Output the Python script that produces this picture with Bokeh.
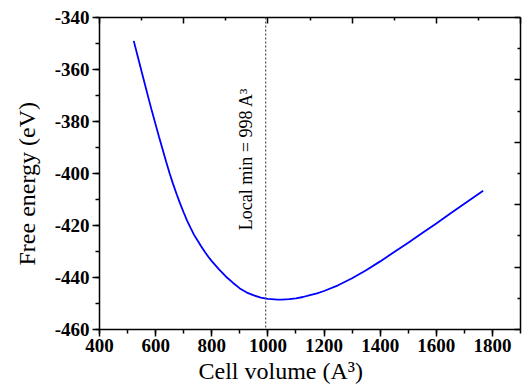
from bokeh.plotting import figure
from bokeh.models import (Range1d, LinearAxis, SingleIntervalTicker, FixedTicker,
                          Span, Label, Title)
from bokeh.embed import file_html
from bokeh.resources import INLINE
import math

# ---- data ----
volume = [522, 537, 550, 562, 575, 587, 600, 612, 625, 637, 650, 662, 675, 687,
          700, 712, 725, 737, 750, 762, 775, 787, 800, 825, 850, 875, 900, 925,
          950, 975, 1000, 1035, 1050, 1075, 1100, 1125, 1150, 1175, 1200, 1250,
          1300, 1350, 1400, 1450, 1500, 1550, 1600, 1650, 1700, 1767]
energy = [-349.0, -355.3, -360.8, -365.8, -371.2, -376.1, -381.2, -385.9, -390.8,
          -395.3, -400.0, -404.0, -408.0, -411.5, -415.0, -418.1, -421.0, -423.6,
          -425.9, -428.0, -430.1, -431.9, -433.7, -436.8, -439.6, -442.0, -444.2,
          -445.8, -446.9, -447.7, -448.2, -448.5, -448.5, -448.3, -448.0, -447.5,
          -446.8, -446.1, -445.2, -443.0, -440.3, -437.2, -433.8, -430.2, -426.6,
          -422.9, -419.2, -415.4, -411.6, -406.6]
local_min_line = 992
x_label = "Cell volume (A\u00b3)"
y_label = "Free energy (eV)"
annot = "Local min = 998 A\u00b3"

x_ticks = [400, 600, 800, 1000, 1200, 1400, 1600, 1800]
x_tick_labels = ["400", "600", "800", "1000", "1200", "1400", "1600", "1800"]
y_ticks = [-460, -440, -420, -400, -380, -360, -340]
y_tick_labels = ["-460", "-440", "-420", "-400", "-380", "-360", "-340"]

top_major = [400, 700, 1000, 1300, 1600, 1900]
top_minor = [550, 850, 1150, 1450, 1750]
right_major = [-460, -436, -412, -388, -364, -340]
right_minor = [-448, -424, -400, -376, -352]

FONT = "Liberation Serif"

p = figure(width=522, height=392, output_backend="svg", toolbar_location=None,
           x_range=Range1d(400, 1900), y_range=Range1d(-460, -340),
           min_border_left=98, min_border_right=2, min_border_top=17,
           min_border_bottom=63)
p.outline_line_color = None
p.grid.visible = False
p.background_fill_color = "white"
p.border_fill_color = "white"

# bottom / left axes
xa = p.xaxis[0]
ya = p.yaxis[0]
xa.ticker = SingleIntervalTicker(interval=200, num_minor_ticks=2)
ya.ticker = SingleIntervalTicker(interval=20, num_minor_ticks=2)
xa.major_label_overrides = dict(zip(x_ticks, x_tick_labels))
ya.major_label_overrides = dict(zip(y_ticks, y_tick_labels))
for ax in (xa, ya):
    ax.axis_line_width = 1.5
    ax.axis_line_color = "black"
    ax.major_tick_line_width = 1.5
    ax.minor_tick_line_width = 1.5
    ax.major_tick_line_color = "black"
    ax.minor_tick_line_color = "black"
    ax.major_tick_out = 7
    ax.major_tick_in = 0
    ax.minor_tick_out = 4
    ax.minor_tick_in = 0
    ax.major_label_text_font = FONT
    ax.major_label_text_font_style = "bold"
    ax.major_label_text_font_size = "19px"
    ax.major_label_text_color = "black"
xa.major_label_standoff = 2
ya.major_label_standoff = 3

# top / right mirror axes (inward ticks, no labels)
top = LinearAxis(ticker=FixedTicker(ticks=top_major, minor_ticks=top_minor))
right = LinearAxis(ticker=FixedTicker(ticks=right_major, minor_ticks=right_minor))
for ax in (top, right):
    ax.axis_line_width = 1.5
    ax.axis_line_color = "black"
    ax.major_tick_line_width = 1.5
    ax.minor_tick_line_width = 1.5
    ax.major_tick_line_color = "black"
    ax.minor_tick_line_color = "black"
    ax.major_tick_out = 0
    ax.major_tick_in = 6
    ax.minor_tick_out = 0
    ax.minor_tick_in = 3
    ax.major_label_text_font_size = "0px"
    ax.major_label_standoff = 0
    ax.major_label_text_alpha = 0
p.add_layout(top, "above")
p.add_layout(right, "right")

# axis titles as titles so they can be placed off-centre
p.add_layout(Title(text=x_label, align="left", offset=99, standoff=2,
                   text_font=FONT, text_font_size="24px",
                   text_font_style="normal", text_color="black"), "below")
p.add_layout(Title(text=y_label, align="left", offset=64, standoff=23,
                   text_font=FONT, text_font_size="24px",
                   text_font_style="normal", text_color="black"), "left")

# curve
p.line(volume, energy, line_color="#0000ff", line_width=1.8)

# local minimum marker
p.add_layout(Span(location=local_min_line, dimension="height",
                  line_color="#505050", line_width=1.2, line_dash="2 2"))

p.add_layout(Label(x=local_min_line, y=-421.8, x_offset=-20, text=annot,
                   angle=math.pi / 2, text_font=FONT, text_font_size="18px",
                   text_align="left", text_baseline="middle", text_color="black"))

open("out.html", "w").write(file_html(p, INLINE))
